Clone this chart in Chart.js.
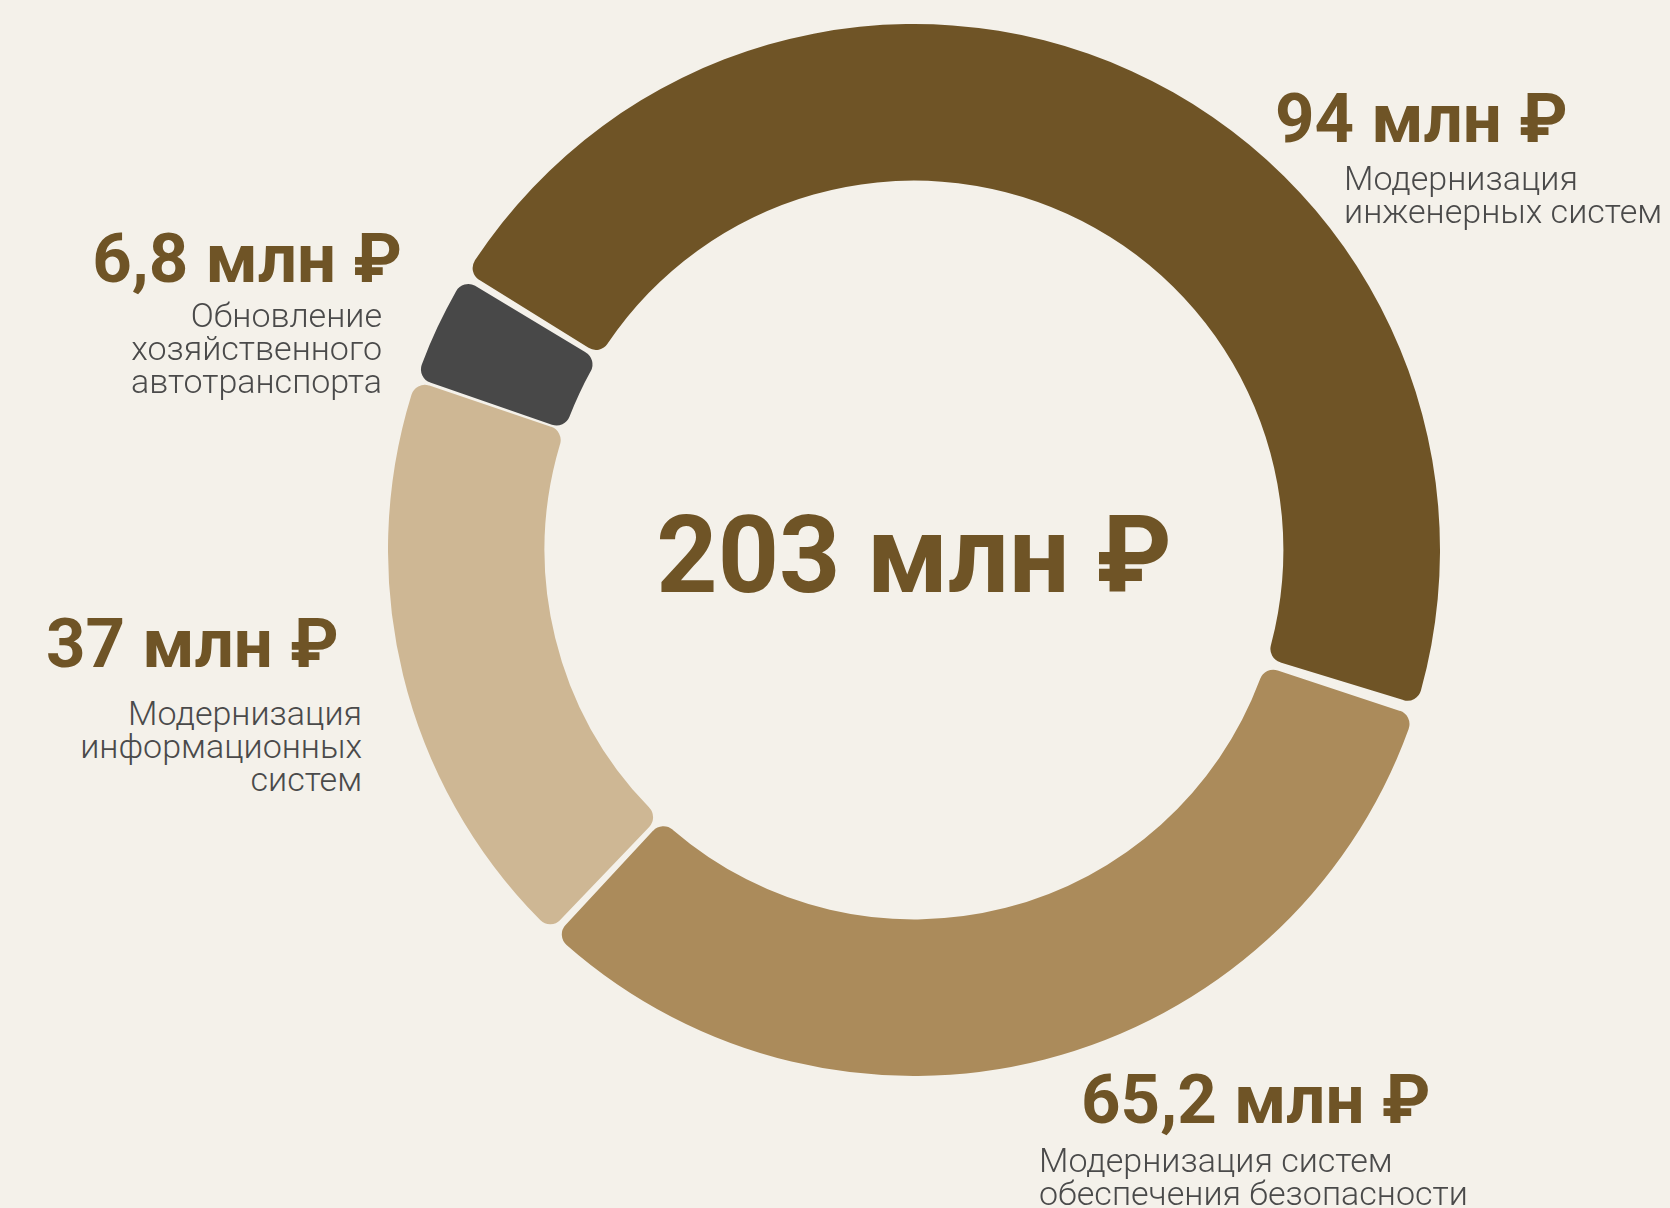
<!DOCTYPE html>
<html lang="ru">
<head>
<meta charset="utf-8">
<script src="https://cdn.jsdelivr.net/npm/chart.js@4/dist/chart.umd.min.js"></script>
<style>
  html, body { margin: 0; padding: 0; }
  body { width: 1670px; height: 1208px; background: #F4F1EA; position: relative; overflow: hidden; font-family: Roboto, "Noto Sans", sans-serif; }
  #wrap { position: absolute; left: 388px; top: 24px; width: 1052px; height: 1052px; }
  .num { position: absolute; font-size: 69px; font-weight: 700; line-height: 69px; color: #6F5426; white-space: nowrap; }
  .desc { position: absolute; font-size: 34px; font-weight: 300; line-height: 33px; color: #4A4A4A; white-space: nowrap; }
  .total { position: absolute; font-size: 107px; font-weight: 700; line-height: 107px; color: #6F5426; white-space: nowrap; transform: translateX(-50%); }
</style>
</head>
<body>
<div id="wrap"><canvas id="donut" width="1052" height="1052"></canvas></div>

<div class="total" style="left:914px; top:502px;">203 млн ₽</div>

<div class="num" style="left:1275px; top:84px;">94 млн ₽</div>
<div class="desc" style="left:1344px; top:162px;">Модернизация<br>инженерных систем</div>

<div class="num" style="right:1268px; top:224px; text-align:right;">6,8 млн ₽</div>
<div class="desc" style="right:1288px; top:299px; text-align:right;">Обновление<br>хозяйственного<br>автотранспорта</div>

<div class="num" style="left:46px; top:609px;">37 млн ₽</div>
<div class="desc" style="right:1308px; top:697px; text-align:right;">Модернизация<br>информационных<br>систем</div>

<div class="num" style="left:1081px; top:1065px;">65,2 млн ₽</div>
<div class="desc" style="left:1039px; top:1144px;">Модернизация систем<br>обеспечения безопасности</div>

<script>
const categories = [
  'Модернизация инженерных систем',
  'Модернизация систем обеспечения безопасности',
  'Модернизация информационных систем',
  'Обновление хозяйственного автотранспорта'
];
const amounts = [94, 65.2, 37, 6.8];
const sliceColors = ['#6F5426', '#AB8B5B', '#CEB794', '#484848'];

const data = {
  labels: categories,
  datasets: [
    {
      data: amounts,
      backgroundColor: sliceColors,
      borderWidth: 0,
      borderRadius: 14,
      spacing: 8
    }
  ]
};

const config = {
  type: 'doughnut',
  data: data,
  options: {
    responsive: false,
    animation: false,
    cutout: '70%',
    rotation: -58.9,
    spacing: 8,
    layout: { padding: 0 },
    plugins: {
      legend: { display: false },
      tooltip: { enabled: false }
    }
  }
};

new Chart(document.getElementById('donut'), config);
</script>
</body>
</html>
